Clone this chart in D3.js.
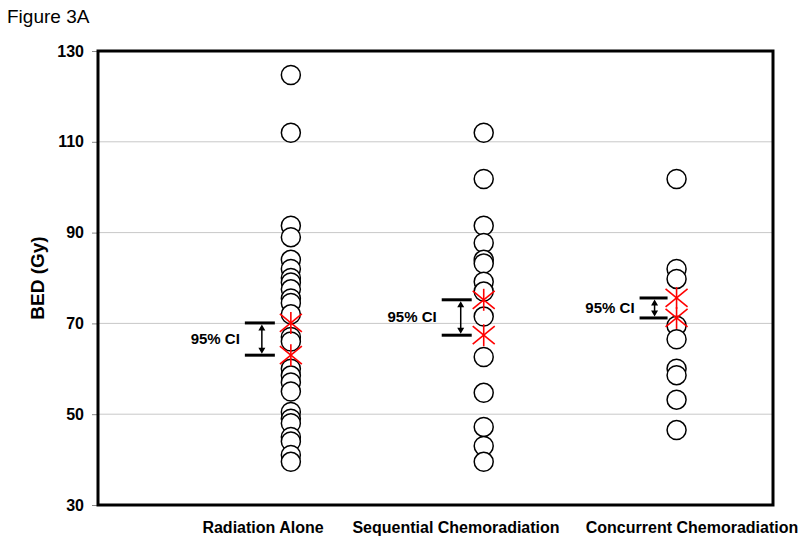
<!DOCTYPE html>
<html>
<head>
<meta charset="utf-8">
<script src="https://cdn.jsdelivr.net/npm/d3@7"></script>
<style>
  html, body { margin: 0; padding: 0; background: #fff; }
  svg { display: block; font-family: "Liberation Sans", Arial, sans-serif; }
</style>
</head>
<body>
<svg id="chart" width="800" height="544"></svg>
<script>
// ---- data ----
const categories = ["Radiation Alone", "Sequential Chemoradiation", "Concurrent Chemoradiation"];
const radiationAlone = [124.7, 112, 91.5, 89, 84, 82, 80, 79, 77.5, 75.5, 74.5, 72, 67, 66, 60, 58.5, 57, 55, 50.5, 49, 48, 45, 44, 41, 39.5];
const sequentialChemo = [112, 101.8, 91.5, 87.7, 84, 83.2, 79.2, 77, 71.5, 62.6, 54.7, 47.2, 43, 39.5];
const concurrentChemo = [101.8, 82, 79.8, 69.5, 66.5, 60, 58.6, 53.2, 46.5];
const ciUpper = [70.1, 75.2, 75.6];
const ciLower = [63.0, 67.4, 71.2];
const ciLabel = "95% CI";
const yTicks = [30, 50, 70, 90, 110, 130];

const series = [radiationAlone, sequentialChemo, concurrentChemo];

(function () {
// ---- layout ----
const svg = d3.select("#chart");
const mLeft = 98, mRight = 773, mTop = 51, mBottom = 505;

const x = d3.scaleLinear().domain([0, 3.5]).range([mLeft, mRight]);
const y = d3.scaleLinear().domain([30, 130]).range([mBottom, mTop]);

// gridlines
svg.append("g")
  .selectAll("line")
  .data(yTicks.filter(t => t !== 30 && t !== 130))
  .join("line")
  .attr("x1", mLeft).attr("x2", mRight)
  .attr("y1", d => y(d)).attr("y2", d => y(d))
  .attr("stroke", "#c8c8c8").attr("stroke-width", 1);

// y axis
const yAxis = d3.axisLeft(y).tickValues(yTicks).tickSize(6).tickPadding(8).tickFormat(d3.format("d"));
const gy = svg.append("g").attr("transform", `translate(${mLeft},0)`).call(yAxis);
gy.select(".domain").remove();
gy.selectAll(".tick line").attr("stroke", "#888").attr("stroke-width", 1);
gy.selectAll(".tick text")
  .attr("font-family", "'Liberation Sans Narrow', 'Liberation Sans', Arial, sans-serif")
  .attr("font-size", 16).attr("font-weight", "bold").attr("fill", "#000");

// frame
svg.append("rect")
  .attr("x", mLeft).attr("y", mTop)
  .attr("width", mRight - mLeft).attr("height", mBottom - mTop)
  .attr("fill", "none").attr("stroke", "#000").attr("stroke-width", 3);

// points
series.forEach((vals, i) => {
  svg.append("g").selectAll("circle")
    .data(vals)
    .join("circle")
    .attr("cx", x(i + 1))
    .attr("cy", d => y(d))
    .attr("r", 9.5)
    .attr("fill", "#fff")
    .attr("stroke", "#000")
    .attr("stroke-width", 1.5);
});

// CI markers (red asterisks) and brackets
const offs = [{bx1: -46, bx2: -16, ax: -29}, {bx1: -42, bx2: -12, ax: -23}, {bx1: -37, bx2: -9, ax: -22}];
categories.forEach((c, i) => {
  const cx = x(i + 1);
  const g = svg.append("g");
  [ciUpper[i], ciLower[i]].forEach(v => {
    const cy = y(v);
    const star = g.append("g").attr("stroke", "#ff0000").attr("stroke-width", 1.6);
    star.append("line").attr("x1", cx - 11).attr("y1", cy - 9).attr("x2", cx + 11).attr("y2", cy + 9);
    star.append("line").attr("x1", cx - 11).attr("y1", cy + 9).attr("x2", cx + 11).attr("y2", cy - 9);
    star.append("line").attr("x1", cx).attr("y1", cy - 11).attr("x2", cx).attr("y2", cy + 11);
  });
  const o = offs[i];
  const yu = y(ciUpper[i]), yl = y(ciLower[i]);
  g.append("line").attr("x1", cx + o.bx1).attr("x2", cx + o.bx2).attr("y1", yu).attr("y2", yu)
    .attr("stroke", "#000").attr("stroke-width", 3);
  g.append("line").attr("x1", cx + o.bx1).attr("x2", cx + o.bx2).attr("y1", yl).attr("y2", yl)
    .attr("stroke", "#000").attr("stroke-width", 3);
  g.append("line").attr("x1", cx + o.ax).attr("x2", cx + o.ax).attr("y1", yu + 5).attr("y2", yl - 5)
    .attr("stroke", "#000").attr("stroke-width", 1.5);
  g.append("path")
    .attr("d", `M${cx + o.ax},${yu + 1.5} l-3.5,6 l7,0 z M${cx + o.ax},${yl - 1.5} l-3.5,-6 l7,0 z`)
    .attr("fill", "#000");
  g.append("text")
    .attr("x", cx + o.bx1 - 5).attr("y", (yu + yl) / 2 + 5)
    .attr("text-anchor", "end")
    .attr("font-family", "'Liberation Sans Narrow', 'Liberation Sans', Arial, sans-serif")
    .attr("font-size", 15).attr("font-weight", "bold")
    .text(ciLabel);
});

// category labels
const labelCenters = [263, 456, 692];
svg.append("g").selectAll("text")
  .data(categories)
  .join("text")
  .attr("x", (d, i) => labelCenters[i])
  .attr("y", 533)
  .attr("text-anchor", "middle")
  .attr("font-family", "'Liberation Sans Narrow', 'Liberation Sans', Arial, sans-serif")
  .attr("font-size", 16).attr("font-weight", "bold")
  .text(d => d);

// y axis title
svg.append("text")
  .attr("transform", `translate(44,${(mTop + mBottom) / 2}) rotate(-90)`)
  .attr("text-anchor", "middle")
  .attr("font-size", 19).attr("font-weight", "bold")
  .text("BED (Gy)");

// figure title
svg.append("text")
  .attr("x", 7).attr("y", 23)
  .attr("font-size", 19)
  .text("Figure 3A");
})();
</script>
</body>
</html>
